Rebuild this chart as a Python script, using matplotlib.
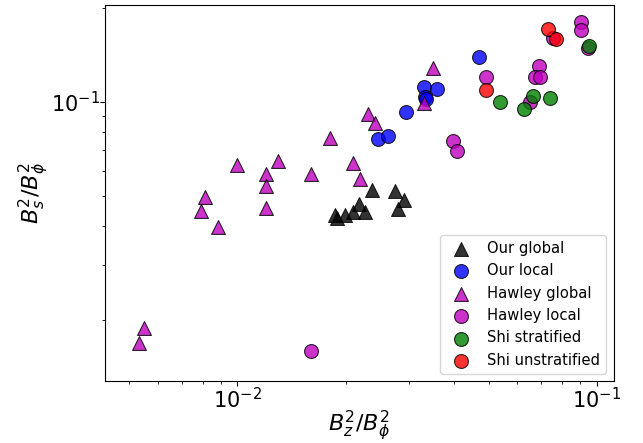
import matplotlib
matplotlib.use("Agg")
import matplotlib.pyplot as plt
from matplotlib.ticker import NullFormatter

# =========================
# Data
# =========================
our_global_x = [0.0237, 0.0274, 0.0291, 0.0279, 0.0218, 0.0226, 0.0210, 0.0199, 0.0187, 0.0189]
our_global_y = [0.0522, 0.0518, 0.0485, 0.0454, 0.0470, 0.0443, 0.0443, 0.0434, 0.0434, 0.0426]

our_local_x = [0.0469, 0.0331, 0.0359, 0.0333, 0.0335, 0.0294, 0.0246, 0.0262]
our_local_y = [0.1394, 0.1115, 0.1103, 0.1040, 0.1020, 0.0927, 0.0759, 0.0778]

hawley_global_x = [0.0100, 0.0130, 0.0120, 0.0120, 0.0160, 0.0210, 0.0220, 0.00813, 0.00793,
                   0.00882, 0.0120, 0.00551, 0.00532, 0.0231, 0.0241, 0.0181, 0.0331, 0.0351]
hawley_global_y = [0.0628, 0.0647, 0.0586, 0.0538, 0.0586, 0.0636, 0.0566, 0.0497, 0.0447,
                   0.0397, 0.0456, 0.01886, 0.01692, 0.0913, 0.0855, 0.0765, 0.0990, 0.1288]

hawley_local_x = [0.0901, 0.0901, 0.0755, 0.0944, 0.0689, 0.0672, 0.0696, 0.0493, 0.0651,
                  0.0399, 0.0408, 0.0160]
hawley_local_y = [0.1805, 0.1701, 0.1607, 0.1493, 0.1304, 0.1200, 0.1200, 0.1200, 0.1002,
                  0.0751, 0.0698, 0.01594]

shi_strat_x = [0.0950, 0.0663, 0.0626, 0.0743, 0.0538]
shi_strat_y = [0.1514, 0.1047, 0.0952, 0.1032, 0.0999]

shi_unstrat_x = [0.0732, 0.0770, 0.0491]
shi_unstrat_y = [0.1710, 0.1592, 0.1093]

# =========================
# Plot
# =========================
fig = plt.figure(figsize=(6.43, 4.43), dpi=100)
ax = fig.add_axes([105 / 643, 62 / 443, 508.5 / 643, 376.5 / 443])

kw = dict(s=100, alpha=0.8, edgecolors="k", linewidths=0.8)
ax.scatter(our_global_x, our_global_y, marker="^", c="k", label="Our global", **kw)
ax.scatter(our_local_x, our_local_y, marker="o", c="b", label="Our local", **kw)
ax.scatter(hawley_global_x, hawley_global_y, marker="^", c="m", label="Hawley global", **kw)
ax.scatter(hawley_local_x, hawley_local_y, marker="o", c="m", label="Hawley local", **kw)
ax.scatter(shi_strat_x, shi_strat_y, marker="o", c="g", label="Shi stratified", **kw)
ax.scatter(shi_unstrat_x, shi_unstrat_y, marker="o", c="r", label="Shi unstratified", **kw)

ax.set_xscale("log")
ax.set_yscale("log")
ax.set_xlim(0.00428, 0.1113)
ax.set_ylim(0.01275, 0.2054)
ax.xaxis.set_minor_formatter(NullFormatter())
ax.yaxis.set_minor_formatter(NullFormatter())
ax.tick_params(axis="both", which="major", labelsize=15, pad=0.5)

ax.set_xlabel(r"$B_z^2/B_\phi^2$", fontsize=16, labelpad=-2)
ax.set_ylabel(r"$B_s^2/B_\phi^2$", fontsize=16, labelpad=0)

ax.legend(loc="lower right", fontsize=10.6)

plt.savefig("out.png", dpi=100)
